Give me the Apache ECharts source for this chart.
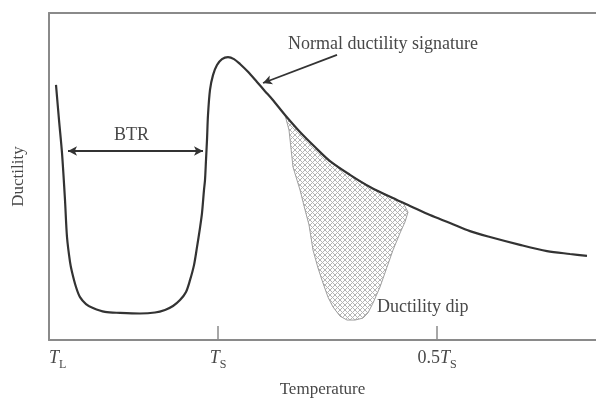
<!DOCTYPE html>
<html><head><meta charset="utf-8">
<script src="https://cdn.jsdelivr.net/npm/echarts@6/dist/echarts.min.js"></script>
<style>html,body{margin:0;padding:0;background:#fff}#c{width:596px;height:403px}</style>
</head><body><div id="c"></div>
<script>
// Temperature (arbitrary units, T_L = 0) and ductility (arbitrary units)
const curveX = [1.4,2.0,2.6,3.2,3.6,4.2,4.6,5.4,6.2,7.4,8.8,11.2,14.2,18.2,21.2,23.2,24.8,26.2,27.4,28.2,29.0,29.6,30.2,30.6,31.0,31.2,31.4,31.6,31.8,32.2,32.8,33.6,34.6,35.8,37.0,38.2,39.8,41.6,43.2,44.6,47.2,50.2,53.2,56.2,60.2,64.2,69.6,72.2,76.2,80.2,84.2,88.2,94.2,99.6,104.2,107.6];
const curveY = [78.0,67.3,57.2,42.8,31.5,23.9,20.8,16.2,13.1,11.0,9.8,8.6,8.3,8.1,8.4,9.2,10.4,12.2,14.7,18.3,22.9,28.4,34.3,38.8,45.9,48.9,55.0,61.2,68.8,76.5,81.0,84.1,85.9,86.5,85.9,84.4,82.0,78.9,76.1,73.7,68.8,63.6,59.0,54.7,50.5,46.8,42.8,41.0,38.2,35.8,33.3,31.5,29.1,27.2,26.3,25.7];
// lower boundary of the ductility dip (left rim -> bottom -> right rim)
const dipX = [47.2,48.0,48.8,50.2,51.2,52.0,52.8,53.8,54.8,55.8,56.8,58.2,59.6,61.2,62.8,63.8,64.8,66.2,67.6,68.8,70.2,71.2,71.8,70.8];
const dipY = [68.8,64.2,52.9,45.9,39.8,35.2,27.5,22.0,17.4,13.1,10.1,7.3,6.1,6.1,6.7,8.3,11.3,16.2,22.3,27.5,32.7,36.1,39.1,42.0];
const tickValues = [0, 33.8, 77.6];
const tickLabels = ['T_L', 'T_S', '0.5T_S'];
const btrArrow = [[3.8, 57.8], [30.8, 57.8]];
const signatureArrow = [[57.6, 87.2], [42.8, 78.6]];
const xMax = 109.4, yMax = 100;

const curveData = curveX.map((x, i) => [x, curveY[i]]);
const dipLower = dipX.map((x, i) => [x, dipY[i]]);
const dipUpper = curveData.filter(p => p[0] > dipX[0] && p[0] < dipX[dipX.length - 1]).reverse();
const dipPolygon = dipLower.concat(dipUpper);

function makeHatch() {
  const n = 5;
  const c = document.createElement('canvas');
  c.width = n; c.height = n;
  const g = c.getContext('2d');
  g.fillStyle = '#ffffff'; g.fillRect(0, 0, n, n);
  g.strokeStyle = '#b4b4b4'; g.lineWidth = 1;
  g.beginPath();
  g.moveTo(-1, -1); g.lineTo(n + 1, n + 1);
  g.moveTo(n + 1, -1); g.lineTo(-1, n + 1);
  g.stroke();
  return c;
}

const serif = 'Liberation Serif';
const txt = '#484848';
const labelRich = {
  t: { fontFamily: serif, fontStyle: 'italic', fontSize: 18, lineHeight: 22, verticalAlign: 'top', color: txt },
  n: { fontFamily: serif, fontSize: 18, lineHeight: 22, verticalAlign: 'top', color: txt },
  s: { fontFamily: serif, fontSize: 12, lineHeight: 12, verticalAlign: 'bottom', color: txt }
};
function fmt(v) {
  const i = tickValues.findIndex(t => Math.abs(t - v) < 1e-6);
  if (i < 0) return '';
  const lab = tickLabels[i];
  const m = lab.match(/^([0-9.]*)T_(\w)$/);
  return (m[1] ? '{n|' + m[1] + '}' : '') + '{t|T}{s|' + m[2] + '}';
}

const chart = echarts.init(document.getElementById('c'), null, { renderer: 'canvas' });
const hatch = makeHatch();
chart.setOption({
  animation: false,
  backgroundColor: '#fff',
  grid: { left: 49, right: 0, top: 13, bottom: 63 },
  xAxis: [{
    type: 'value', min: 0, max: xMax, position: 'bottom',
    axisLine: { lineStyle: { color: '#8a8a8a', width: 2 } },
    splitLine: { show: false },
    axisTick: { show: true, customValues: tickValues.slice(1), inside: true, length: 14, lineStyle: { color: '#8a8a8a', width: 1.5 } },
    axisLabel: { show: true, customValues: tickValues, formatter: fmt, rich: labelRich, margin: 9, alignMinLabel: 'left' },
    name: 'Temperature', nameLocation: 'middle', nameGap: 41,
    nameTextStyle: { fontFamily: serif, fontSize: 17, color: txt }
  }, {
    type: 'value', min: 0, max: xMax, position: 'top',
    axisLine: { show: true, lineStyle: { color: '#8a8a8a', width: 2 } },
    splitLine: { show: false }, axisTick: { show: false }, axisLabel: { show: false }
  }],
  yAxis: {
    type: 'value', min: 0, max: yMax,
    axisLine: { show: true, lineStyle: { color: '#8a8a8a', width: 2 } },
    splitLine: { show: false }, axisTick: { show: false }, axisLabel: { show: false },
    name: 'Ductility', nameLocation: 'middle', nameGap: 22, nameRotate: 90,
    nameTextStyle: { fontFamily: serif, fontSize: 17, color: txt }
  },
  series: [{
    type: 'custom',
    silent: true,
    data: [0],
    renderItem: function (params, api) {
      const pts = dipPolygon.map(p => api.coord(p));
      return {
        type: 'polygon',
        shape: { points: pts },
        style: { fill: { image: hatch, repeat: 'repeat' }, stroke: '#a0a0a0', lineWidth: 1 }
      };
    },
    z: 1
  }, {
    type: 'line',
    data: curveData,
    smooth: 0.3,
    showSymbol: false,
    symbol: 'none',
    lineStyle: { color: '#333', width: 2.2 },
    z: 3,
    markLine: {
      silent: true,
      animation: false,
      label: { show: false },
      lineStyle: { color: '#333', width: 1.8, type: 'solid' },
      symbolSize: [7, 9],
      data: [
        [{ coord: btrArrow[0], symbol: 'arrow' }, { coord: btrArrow[1], symbol: 'arrow' }],
        [{ coord: signatureArrow[0], symbol: 'none' }, { coord: signatureArrow[1], symbol: 'arrow' }]
      ]
    }
  }],
  graphic: [
    { type: 'text', left: 288, top: 35, style: { text: 'Normal ductility signature', font: '18px "Liberation Serif"', fill: txt } },
    { type: 'text', left: 114, top: 126, style: { text: 'BTR', font: '18px "Liberation Serif"', fill: txt } },
    { type: 'text', left: 377, top: 298, style: { text: 'Ductility dip', font: '18px "Liberation Serif"', fill: txt } }
  ]
});
</script>
</body></html>
